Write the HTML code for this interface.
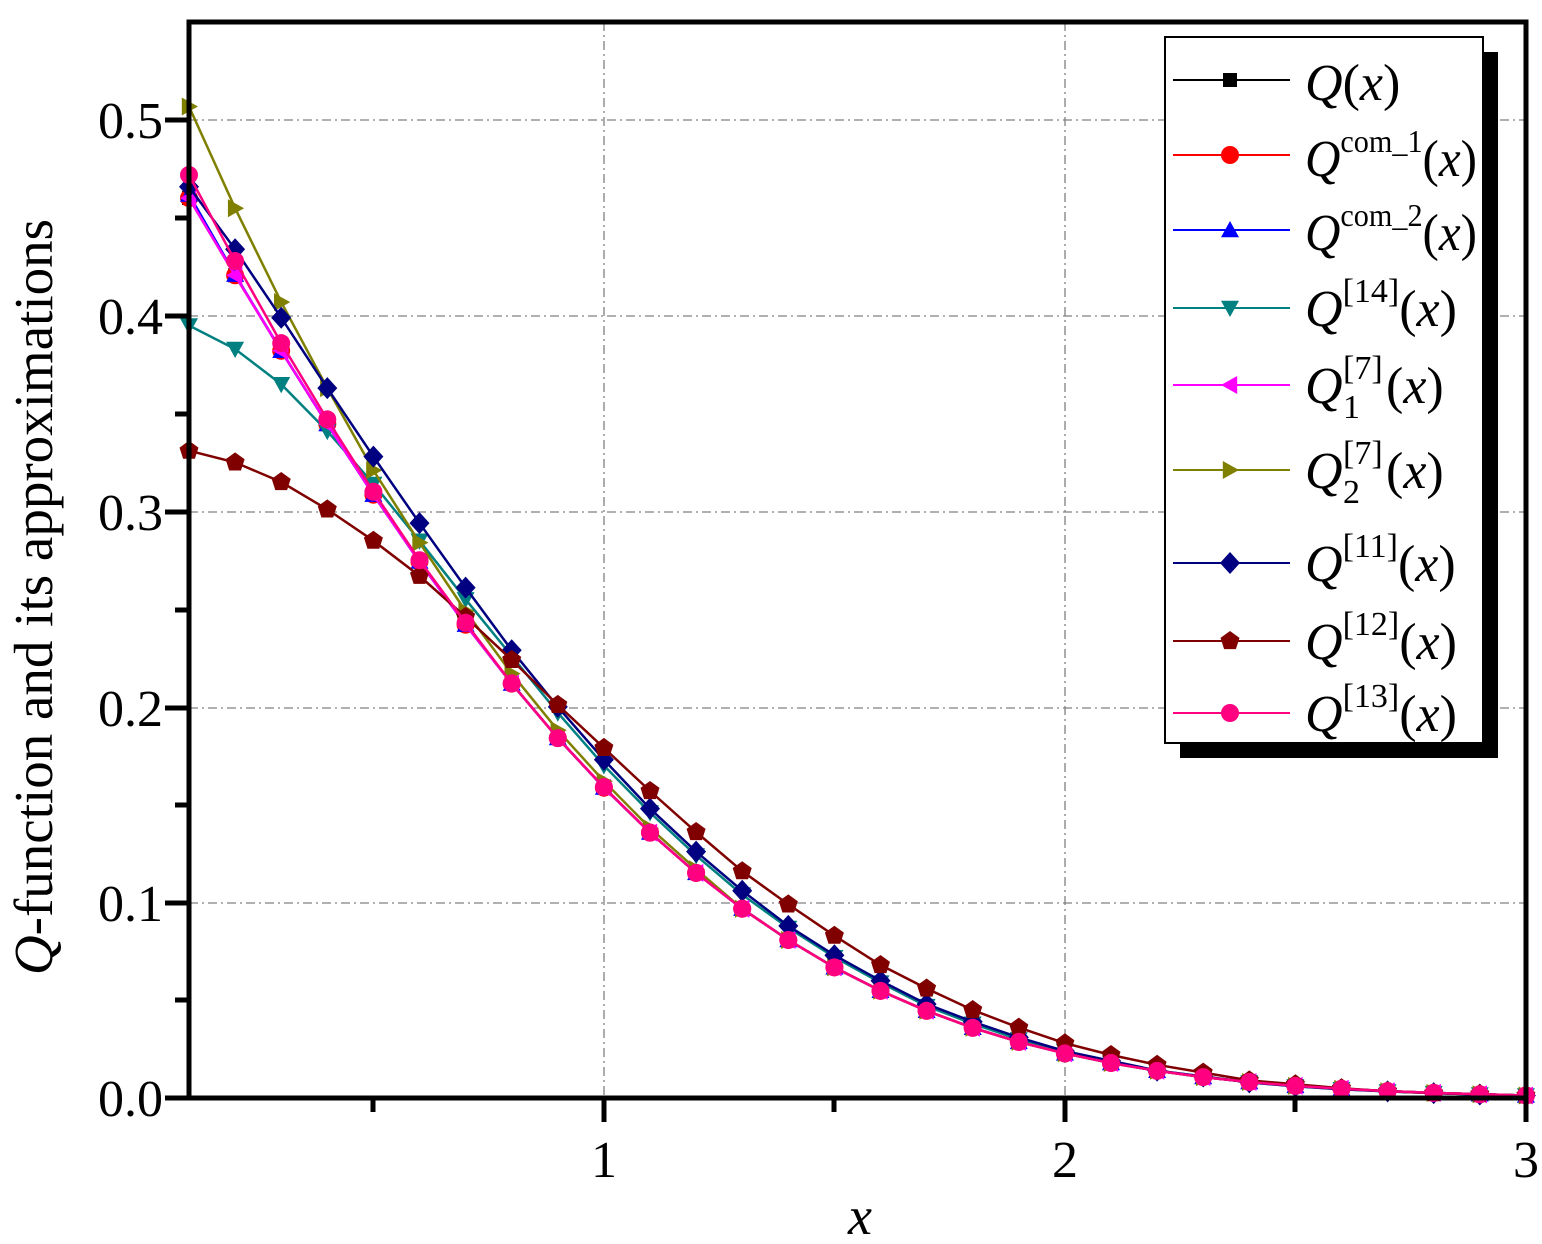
<!DOCTYPE html>
<html><head><meta charset="utf-8"><style>
html,body{margin:0;padding:0;background:#fff;}
svg{display:block;}
text{font-family:"Liberation Serif",serif;}
</style></head><body>
<svg id="s" width="1542" height="1244" viewBox="0 0 1542 1244" xmlns="http://www.w3.org/2000/svg">
<rect width="1542" height="1244" fill="#fff"/>
<g stroke="#808080" stroke-width="1.3" stroke-dasharray="9,4,2,4" fill="none">
<line x1="604" y1="22" x2="604" y2="1098"/>
<line x1="1065" y1="22" x2="1065" y2="1098"/>
<line x1="189" y1="120" x2="1526" y2="120"/>
<line x1="189" y1="316" x2="1526" y2="316"/>
<line x1="189" y1="512" x2="1526" y2="512"/>
<line x1="189" y1="708" x2="1526" y2="708"/>
<line x1="189" y1="903" x2="1526" y2="903"/>
</g>
<g id="series"></g>
<g stroke="#000" fill="none">
<rect x="189" y="22" width="1337" height="1076" stroke-width="5"/>
<g stroke-width="5">
<line x1="604" y1="1098" x2="604" y2="1122"/>
<line x1="1065" y1="1098" x2="1065" y2="1122"/>
<line x1="1526" y1="1098" x2="1526" y2="1122"/>
<line x1="373" y1="1098" x2="373" y2="1112"/>
<line x1="834" y1="1098" x2="834" y2="1112"/>
<line x1="1295" y1="1098" x2="1295" y2="1112"/>
<line x1="165" y1="1098" x2="189" y2="1098"/>
<line x1="165" y1="903" x2="189" y2="903"/>
<line x1="165" y1="708" x2="189" y2="708"/>
<line x1="165" y1="512" x2="189" y2="512"/>
<line x1="165" y1="316" x2="189" y2="316"/>
<line x1="165" y1="120" x2="189" y2="120"/>
<line x1="175" y1="1000" x2="189" y2="1000"/>
<line x1="175" y1="805" x2="189" y2="805"/>
<line x1="175" y1="610" x2="189" y2="610"/>
<line x1="175" y1="414" x2="189" y2="414"/>
<line x1="175" y1="218" x2="189" y2="218"/>
</g>
</g>
<g font-size="52" text-anchor="end" fill="#000">
<text x="163" y="1116">0.0</text>
<text x="163" y="921">0.1</text>
<text x="163" y="726">0.2</text>
<text x="163" y="530">0.3</text>
<text x="163" y="334">0.4</text>
<text x="163" y="138">0.5</text>
</g>
<g font-size="52" text-anchor="middle" fill="#000">
<text x="604" y="1177">1</text>
<text x="1065" y="1177">2</text>
<text x="1526" y="1177">3</text>
</g>
<text x="860" y="1234" font-size="54" font-style="italic" text-anchor="middle">x</text>
<text transform="translate(52,597) rotate(-90)" font-size="55" text-anchor="middle"><tspan font-style="italic">Q</tspan>-function and its approximations</text>
<!-- legend -->
<rect x="1180" y="52" width="318" height="706" fill="#000"/>
<rect x="1165" y="37" width="318" height="706" fill="#fff" stroke="#000" stroke-width="2"/>
<g id="leg"></g>
<g font-size="52" fill="#000">
<text x="1305" y="100"><tspan font-style="italic">Q</tspan>(<tspan font-style="italic">x</tspan>)</text>
<text x="1305" y="176" textLength="172" lengthAdjust="spacingAndGlyphs"><tspan font-style="italic">Q</tspan><tspan font-size="32" dy="-24">com_1</tspan><tspan dy="24">(</tspan><tspan font-style="italic">x</tspan>)</text>
<text x="1305" y="250" textLength="172" lengthAdjust="spacingAndGlyphs"><tspan font-style="italic">Q</tspan><tspan font-size="32" dy="-24">com_2</tspan><tspan dy="24">(</tspan><tspan font-style="italic">x</tspan>)</text>
<text x="1305" y="326"><tspan font-style="italic">Q</tspan><tspan font-size="34" dy="-24">[14]</tspan><tspan dy="24">(</tspan><tspan font-style="italic">x</tspan>)</text>
<text x="1305" y="403" font-style="italic">Q</text>
<text x="1343" y="379" font-size="34">[7]</text>
<text x="1343" y="418" font-size="34">1</text>
<text x="1386" y="403">(<tspan font-style="italic">x</tspan>)</text>
<text x="1305" y="488" font-style="italic">Q</text>
<text x="1343" y="464" font-size="34">[7]</text>
<text x="1343" y="503" font-size="34">2</text>
<text x="1386" y="488">(<tspan font-style="italic">x</tspan>)</text>
<text x="1305" y="581"><tspan font-style="italic">Q</tspan><tspan font-size="34" dy="-24">[11]</tspan><tspan dy="24">(</tspan><tspan font-style="italic">x</tspan>)</text>
<text x="1305" y="659"><tspan font-style="italic">Q</tspan><tspan font-size="34" dy="-24">[12]</tspan><tspan dy="24">(</tspan><tspan font-style="italic">x</tspan>)</text>
<text x="1305" y="731"><tspan font-style="italic">Q</tspan><tspan font-size="34" dy="-24">[13]</tspan><tspan dy="24">(</tspan><tspan font-style="italic">x</tspan>)</text>
</g>
</svg>
<script>
var Q=[0.4602,0.4207,0.3821,0.3446,0.3085,0.2743,0.2420,0.2119,0.1841,0.1587,0.1357,0.1151,0.0968,0.0808,0.0668,0.0548,0.0446,0.0359,0.0287,0.0228,0.0179,0.0139,0.0107,0.0082,0.0062,0.0047,0.0035,0.0026,0.0019,0.0013];
function mod(a){return Q.map(function(v,i){return i<a.length?a[i]:v;});}
var S=[
 {c:"#000",m:"sq",d:Q},
 {c:"#f00",m:"ci",d:Q},
 {c:"#00f",m:"tu",d:mod([0.462,0.421])},
 {c:"#008080",m:"td",d:mod([0.395,0.383,0.365,0.341,0.314,0.285,0.255,0.226,0.197,0.170,0.146,0.124,0.104,0.087,0.072,0.059,0.047,0.038,0.030,0.024,0.018,0.014,0.011,0.008,0.006,0.0045,0.0034,0.0025,0.0018,0.0013])},
 {c:"#f0f",m:"tl",d:Q},
 {c:"#808000",m:"tr",d:mod([0.507,0.455,0.407,0.363,0.321,0.284,0.249,0.217,0.188,0.162,0.138,0.117])},
 {c:"#000080",m:"di",d:mod([0.466,0.434,0.399,0.363,0.328,0.294,0.261,0.229,0.200,0.173,0.148,0.126,0.106,0.088,0.073,0.060,0.048,0.039,0.031,0.024,0.019,0.014,0.011,0.008,0.006,0.0045,0.0034,0.0025,0.0018,0.0013])},
 {c:"#800000",m:"pe",d:mod([0.331,0.325,0.315,0.301,0.285,0.267,0.246,0.224,0.201,0.179,0.157,0.136,0.116,0.099,0.083,0.068,0.056,0.045,0.036,0.028,0.022,0.017,0.013,0.009,0.007,0.005,0.0035,0.0025,0.002,0.0013])},
 {c:"#ff0080",m:"ci",d:mod([0.472,0.428,0.386,0.347,0.310,0.275,0.243,0.212,0.184,0.159])}
];
function X(i){return 189+i*46.1;}
function Y(v){return 1098-v*1955.6;}
function mk(t,x,y,c){
 var r=9,p;
 if(t=="sq")return '<rect x="'+(x-7)+'" y="'+(y-7)+'" width="14" height="14" fill="'+c+'"/>';
 if(t=="ci")return '<circle cx="'+x+'" cy="'+y+'" r="'+r+'" fill="'+c+'"/>';
 if(t=="tu")p=[[x,y-r],[x+r,y+r*0.8],[x-r,y+r*0.8]];
 if(t=="td")p=[[x,y+r],[x+r,y-r*0.8],[x-r,y-r*0.8]];
 if(t=="tl")p=[[x-r,y],[x+r*0.8,y-r],[x+r*0.8,y+r]];
 if(t=="tr")p=[[x+r,y],[x-r*0.8,y-r],[x-r*0.8,y+r]];
 if(t=="di")p=[[x,y-11],[x+10,y],[x,y+11],[x-10,y]];
 if(t=="pe"){p=[];for(var k=0;k<5;k++){var a=-Math.PI/2+k*2*Math.PI/5;p.push([x+10*Math.cos(a),y+10*Math.sin(a)]);}}
 return '<polygon points="'+p.map(function(q){return q[0].toFixed(1)+','+q[1].toFixed(1)}).join(' ')+'" fill="'+c+'"/>';
}
var h='';
S.forEach(function(s){
 h+='<polyline fill="none" stroke="'+s.c+'" stroke-width="2.5" points="'+s.d.map(function(v,i){return X(i).toFixed(1)+','+Y(v).toFixed(1)}).join(' ')+'"/>';
 s.d.forEach(function(v,i){h+=mk(s.m,X(i),Y(v),s.c);});
});
document.getElementById('series').innerHTML=h;
var ly=[80,155,230,308,385,470,563,641,713],l='';
S.forEach(function(s,i){l+='<line x1="1173" y1="'+ly[i]+'" x2="1290" y2="'+ly[i]+'" stroke="'+s.c+'" stroke-width="2"/>'+mk(s.m,1230,ly[i],s.c);});
document.getElementById('leg').innerHTML=l;
</script>
</body></html>
